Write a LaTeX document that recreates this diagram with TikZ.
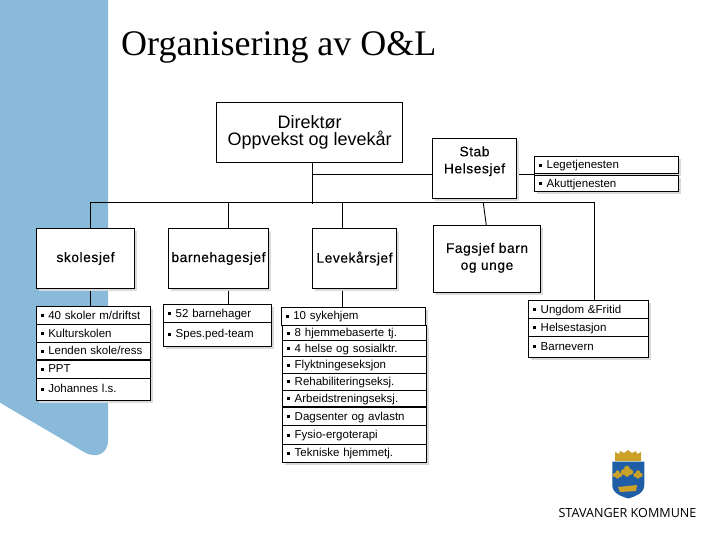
\documentclass[tikz,border=0pt]{standalone}
\usepackage{fontspec}
\setmainfont{Liberation Sans}
\newfontfamily\titlefont{Liberation Serif}
\newfontfamily\headfont[LetterSpace=4,FakeBold=0.3]{Liberation Sans}
\newfontfamily\logofont{Open Sans}
\usetikzlibrary{shadows}
\definecolor{panelblue}{HTML}{8ABAD9}
\definecolor{crestblue}{HTML}{1F5DA6}
\definecolor{crestgold}{HTML}{C9A227}
\tikzset{
  softshadow/.style={drop shadow={shadow xshift=2.5pt,shadow yshift=-2.5pt,fill=black!15,opacity=1}},
  chiefbox/.style={draw=black,line width=0.9pt,fill=white,softshadow,anchor=north west,inner sep=0pt,outer sep=0pt,align=center,
    font=\headfont\fontsize{13.8}{17}\selectfont},
  topbox/.style={draw=black,line width=0.9pt,fill=white,anchor=north west,inner sep=0pt,outer sep=0pt,align=center,
    font=\fontsize{18}{17}\selectfont},
  listrow/.style={draw=black,line width=0.9pt,fill=white,softshadow,anchor=north west,inner ysep=0pt,inner xsep=4.5pt,outer sep=0pt,align=left,
    text height=10pt,text depth=2.5pt,font=\fontsize{11.5}{13}\selectfont},
  conn/.style={draw=black,line width=0.9pt},
  heavyrule/.style={draw=black,line width=1.7pt},
}
\newcommand\lrow[6]{%
  \pgfmathsetmacro\lw{#4-#2}\pgfmathsetmacro\lh{#5-#3}\pgfmathsetmacro\tw{\lw-9}%
  \node[listrow,minimum width=\lw pt,minimum height=\lh pt,text width=\tw pt] (#1) at (#2,#3)
    {\rule[2pt]{3pt}{3pt}\hspace{4.5pt}#6};}
\begin{document}
\begin{tikzpicture}[x=1pt,y=-1pt]
\useasboundingbox (0,0) rectangle (720,540);
% blue panel
\fill[panelblue] (0,0) -- (108,0) -- (108,441) .. controls (108,452) and (98,460) .. (84,452) -- (0,402.7) -- cycle;
% title
\node[anchor=base west,inner sep=0pt,font=\titlefont\fontsize{36}{40}\selectfont] (title) at (121,56) {Organisering av O\&L};
% connector points
\coordinate (busL) at (90.3,202.3);
\coordinate (busR) at (594.7,202.3);
\coordinate (busC) at (312.3,204);
\coordinate (busB) at (228.5,203);
\coordinate (busD) at (342.3,203);
\coordinate (busE) at (483.3,203);
\coordinate (busF) at (486.3,203);
\coordinate (stabin) at (312.3,174.3);
% boxes
\node[topbox,minimum width=186pt,minimum height=60pt] (dir) at (216.7,102.3) {Direktør\\Oppvekst og levekår};
\node[chiefbox,minimum width=84.4pt,minimum height=60pt] (stab) at (432.3,138.3) {Stab\\Helsesjef\\\mbox{}};
\node[chiefbox,minimum width=98.4pt,minimum height=60.4pt] (skole) at (36.3,228.3) {skolesjef};
\node[chiefbox,minimum width=100.4pt,minimum height=60.4pt] (barne) at (168.3,228.3) {barnehagesjef};
\node[chiefbox,minimum width=84.4pt,minimum height=60.4pt] (leve) at (312.3,228.3) {Levekårsjef};
\node[chiefbox,minimum width=107.4pt,minimum height=67pt] (fag) at (433.3,225.3) {\mbox{}\\[-9pt]Fagsjef barn\\og unge};
% lists
\lrow{s1}{36.3}{306.7}{150.7}{324.3}{40 skoler m/driftst}
\lrow{s2}{36.3}{324.3}{150.7}{342.3}{Kulturskolen}
\lrow{s3}{36.3}{342.3}{150.7}{360}{Lenden skole/ress}
\lrow{s4}{36.3}{360}{150.7}{378.3}{PPT}
\lrow{s5}{36.3}{378.3}{150.7}{400}{Johannes l.s.}
\lrow{b1}{163.7}{304.3}{271.7}{322.3}{52 barnehager}
\lrow{b2}{163.7}{322.3}{271.7}{346}{Spes.ped-team}
\lrow{l1}{281.3}{307.3}{425.7}{325}{10 sykehjem}
\lrow{l2}{282.7}{325}{426.7}{340.7}{8 hjemmebaserte tj.}
\lrow{l3}{282.7}{340.7}{426.7}{356.3}{4 helse og sosialktr.}
\lrow{l4}{282.7}{356.3}{426.7}{373.3}{Flyktningeseksjon}
\lrow{l5}{282.7}{373.3}{426.7}{390}{Rehabiliteringseksj.}
\lrow{l6}{282.7}{390}{426.7}{407.3}{Arbeidstreningseksj.}
\lrow{l7}{282.7}{407.3}{426.7}{425.7}{Dagsenter og avlastn}
\lrow{l8}{282.7}{425.7}{426.7}{444}{Fysio-ergoterapi}
\lrow{l9}{282.7}{444}{426.7}{462.3}{Tekniske hjemmetj.}
\lrow{r1}{534.7}{156.7}{678.7}{173.3}{Legetjenesten}
\lrow{r2}{534.7}{175.7}{678.7}{191.3}{Akuttjenesten}
\lrow{u1}{528.7}{300.3}{648.7}{318.3}{Ungdom \&Fritid}
\lrow{u2}{528.7}{318.3}{648.7}{336.3}{Helsestasjon}
\lrow{u3}{528.7}{336.3}{648.7}{357}{Barnevern}
\draw[heavyrule] (s3.south west) -- (s3.south east);
\draw[heavyrule] (l6.south west) -- (l6.south east);
% connectors
\draw[conn] (busL) -- (busR);
\draw[conn] (busL) -- (busL |- skole.north);
\draw[conn] (busL |- skole.south) ++(0,2) -- (busL |- s1.north);
\draw[conn] (busB) -- (busB |- barne.north);
\draw[conn] (busB |- barne.south) ++(0,2) -- (busB |- b1.north);
\draw[conn] (busD) -- (busD |- leve.north);
\draw[conn] (busD |- leve.south) ++(0,2) -- (busD |- l1.north);
\draw[conn] (busC |- dir.south) -- (busC);
\draw[conn] (stabin) -- (stabin -| stab.west);
\draw[conn] (stab.east |- stabin) ++(2.5,0) -- (stabin -| r1.west);
\draw[conn] (busE) -- (busF |- fag.north);
\draw[conn] (busR) -- (busR |- u1.north);
% crest and municipality name
\fill[crestgold] (615,461) -- (615,452) -- (619,454) -- (620,451) -- (624,453) -- (628,450) -- (632,453) -- (636,451) -- (637,454) -- (641,452) -- (641,461) -- cycle;
\fill[crestblue] (612.3,461.7) -- (644.3,461.7) -- (644.3,485) .. controls (644.3,493) and (636,496) .. (628.3,498.5) .. controls (620,496) and (612.3,493) .. (612.3,485) -- cycle;
\foreach \cx/\cy/\r in {627/472/4.8,617.5/475/3.6,638/475/3.6}{
  \fill[crestgold] (\cx,\cy-\r*0.7) circle (\r*0.6);
  \fill[crestgold] (\cx-\r*0.7,\cy) circle (\r*0.6);
  \fill[crestgold] (\cx+\r*0.7,\cy) circle (\r*0.6);
  \fill[crestgold] (\cx,\cy+\r*0.4) circle (\r*0.6);
}
\fill[crestgold] (618,487) -- (637,485) -- (636,491) -- (620,492) -- cycle;
\node[anchor=base,inner sep=0pt,font=\logofont\fontsize{12.6}{14}\selectfont] (logo) at (627.5,517) {STAVANGER KOMMUNE};
\end{tikzpicture}
\end{document}
